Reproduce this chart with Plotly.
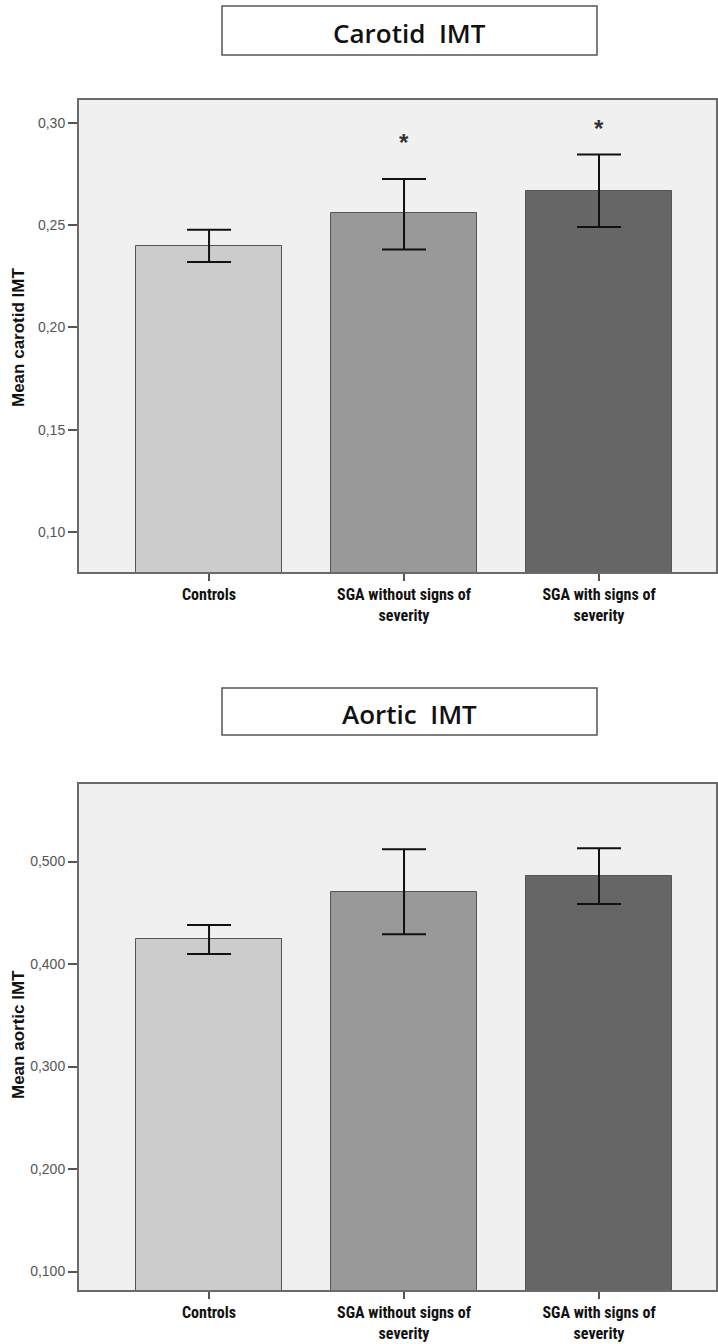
import plotly.graph_objects as go

categories = ["<b>Controls</b>", "<b>SGA without signs of</b><br><b>severity</b>", "<b>SGA with signs of</b><br><b>severity</b>"]
bar_colors = ["#cccccc", "#999999", "#666666"]

# Carotid IMT
carotid_mean = [0.2399, 0.2560, 0.2667]
carotid_upper = [0.2477, 0.2726, 0.2846]
carotid_lower = [0.2320, 0.2381, 0.2491]
carotid_star_y = [None, 0.2905, 0.2975]
carotid_ticks = [0.10, 0.15, 0.20, 0.25, 0.30]
carotid_ticktext = ["0,10", "0,15", "0,20", "0,25", "0,30"]

# Aortic IMT
aortic_mean = [0.4244, 0.4700, 0.4859]
aortic_upper = [0.4380, 0.5120, 0.5130]
aortic_lower = [0.4098, 0.4290, 0.4585]
aortic_ticks = [0.100, 0.200, 0.300, 0.400, 0.500]
aortic_ticktext = ["0,100", "0,200", "0,300", "0,400", "0,500"]

W, H = 718, 1344
xpos = [0, 1, 2]

def py(y):
    return 1 - y / H

fig = go.Figure()

def add_bars(means, upper, lower, xa, ya):
    fig.add_trace(go.Bar(
        x=xpos, y=means, width=0.75,
        marker=dict(color=bar_colors, line=dict(color="#555555", width=1)),
        error_y=dict(type="data", symmetric=False,
                     array=[u - m for u, m in zip(upper, means)],
                     arrayminus=[m - l for m, l in zip(means, lower)],
                     color="#111111", thickness=2, width=22),
        xaxis=xa, yaxis=ya, showlegend=False, hoverinfo="skip"))

add_bars(carotid_mean, carotid_upper, carotid_lower, "x", "y")
add_bars(aortic_mean, aortic_upper, aortic_lower, "x2", "y2")

xdom = [79 / W, 716 / W]
tickfont_x = dict(family="Liberation Sans Narrow, Arial Narrow, Roboto Condensed, Liberation Sans, sans-serif",
                  size=16, color="#111111")
tickfont_y = dict(family="Liberation Sans, Arial, sans-serif", size=14, color="#555555")

common_x = dict(range=[-0.667, 2.6], tickmode="array", tickvals=xpos, ticktext=categories,
                ticks="outside", ticklen=7, tickcolor="#555555", tickwidth=1.5,
                showline=True, linecolor="#6a6a6a", linewidth=2, mirror=True,
                showgrid=False, zeroline=False, tickfont=tickfont_x, fixedrange=True)
common_y = dict(ticks="outside", ticklen=9, tickcolor="#555555", tickwidth=2,
                showline=True, linecolor="#6a6a6a", linewidth=2, mirror=True,
                showgrid=False, zeroline=False, tickfont=tickfont_y, tickmode="array")

fig.update_layout(
    width=W, height=H,
    margin=dict(l=0, r=0, t=0, b=0),
    paper_bgcolor="white",
    plot_bgcolor="#f0f0f0",
    bargap=0,
    xaxis=dict(domain=xdom, anchor="y", **common_x),
    yaxis=dict(domain=[py(572), py(100)], anchor="x", range=[0.0804, 0.3112],
               tickvals=carotid_ticks, ticktext=carotid_ticktext, **common_y),
    xaxis2=dict(domain=xdom, anchor="y2", **common_x),
    yaxis2=dict(domain=[py(1290), py(784)], anchor="x2", range=[0.0820, 0.5756],
                tickvals=aortic_ticks, ticktext=aortic_ticktext, **common_y),
)

# Significance asterisks
for xi, sy in zip(xpos, carotid_star_y):
    if sy is not None:
        fig.add_annotation(x=xi, y=sy, xref="x", yref="y", text="<b>*</b>", showarrow=False,
                           font=dict(family="Liberation Sans, Arial, sans-serif", size=24, color="#333333"),
                           yanchor="middle")

# Title boxes
title_font = dict(family="Open Sans, Lato, sans-serif", size=26, color="#111111", weight=600)
for (y0, y1, label) in [(6, 55, "Carotid  IMT"), (688, 735, "Aortic  IMT")]:
    fig.add_shape(type="rect", xref="paper", yref="paper",
                  x0=222 / W, x1=597 / W, y0=py(y1), y1=py(y0),
                  line=dict(color="#555555", width=1.5), fillcolor="white")
    fig.add_annotation(x=(222 + 597) / 2 / W, y=py((y0 + y1) / 2 + 2), xref="paper", yref="paper",
                       text=label.replace("  ", "&nbsp; "), showarrow=False, font=title_font,
                       xanchor="center", yanchor="middle")

# Y-axis titles
ytitle_font = dict(family="Liberation Sans, Arial, sans-serif", size=17, color="#111111")
for yc, label in [(338, "<b>Mean carotid IMT</b>"), (1035, "<b>Mean aortic IMT</b>")]:
    fig.add_annotation(x=18 / W, y=py(yc), xref="paper", yref="paper", text=label,
                       textangle=-90, showarrow=False, font=ytitle_font,
                       xanchor="center", yanchor="middle")

fig.write_html("out.html", config={"displayModeBar": False},
               post_script="document.body.style.margin='0';document.body.style.overflow='hidden';")
